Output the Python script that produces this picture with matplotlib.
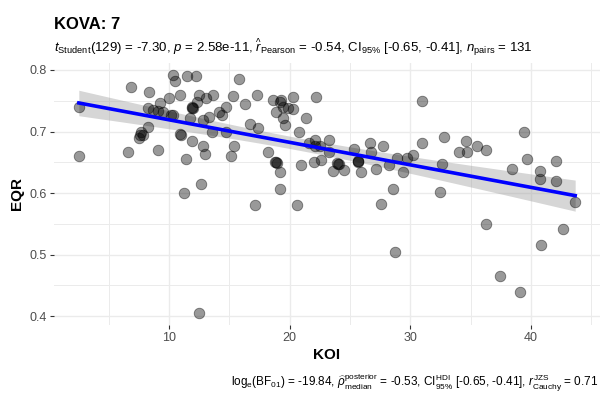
import numpy as np
import matplotlib
matplotlib.use('Agg')
import matplotlib.pyplot as plt
from matplotlib.ticker import MultipleLocator

plt.rcParams['font.family'] = ['Liberation Sans', 'DejaVu Sans']
plt.rcParams['mathtext.fontset'] = 'custom'
plt.rcParams['mathtext.rm'] = 'Liberation Sans'
plt.rcParams['mathtext.it'] = 'Liberation Sans:italic'
plt.rcParams['mathtext.bf'] = 'Liberation Sans:bold'

# KOVA station 7
koi = [2.5, 2.5, 6.8, 6.6, 7.5, 7.8, 7.66, 8.2, 8.3, 8.2,
       8.63, 9.04, 9.46, 9.24, 9.1, 10.0, 10.15, 10.35, 10.35, 10.45,
       10.9, 11.5, 12.25, 10.9, 11.0, 11.7, 11.9, 11.95, 11.9, 11.4,
       11.26, 12.5, 12.3, 12.8, 12.84, 12.93, 12.6, 12.43, 13.07, 13.67,
       13.34, 13.56, 14.17, 14.4, 14.67, 14.72, 15.28, 15.75, 16.25, 15.34,
       15.15, 16.67, 17.27, 17.36, 17.1, 18.6, 19.16, 19.3, 20.27, 22.21,
       19.43, 19.85, 20.27, 18.88, 19.43, 19.58, 21.38, 20.77, 18.2, 18.74,
       18.94, 19.16, 19.16, 20.6, 20.96, 22.07, 22.0, 22.62, 22.49, 23.26,
       21.6, 23.92, 24.09, 23.6, 24.5, 25.34, 25.67, 25.7, 25.87, 26.64,
       26.78, 27.75, 27.14, 28.25, 28.86, 29.41, 29.69, 30.19, 30.94, 30.99,
       28.53, 27.6, 32.5, 32.6, 32.79, 34.62, 34.07, 34.68, 35.51, 36.28,
       39.44, 39.67, 38.42, 40.77, 40.77, 42.05, 42.1, 43.68, 36.28, 37.45,
       39.11, 40.86, 42.66, 28.75, 23.26, 22.07,
       7.6, 11.92, 18.9, 24.0, 25.68]
eqr = [0.740, 0.661, 0.772, 0.666, 0.690, 0.695, 0.700, 0.707, 0.764, 0.738,
       0.735, 0.733, 0.732, 0.746, 0.670, 0.755, 0.727, 0.727, 0.792, 0.782,
       0.759, 0.791, 0.791, 0.696, 0.694, 0.722, 0.740, 0.738, 0.685, 0.656,
       0.600, 0.760, 0.748, 0.719, 0.677, 0.664, 0.615, 0.405, 0.755, 0.760,
       0.723, 0.699, 0.731, 0.727, 0.740, 0.700, 0.758, 0.786, 0.745, 0.677,
       0.661, 0.712, 0.760, 0.706, 0.580, 0.751, 0.748, 0.751, 0.756, 0.756,
       0.740, 0.738, 0.737, 0.731, 0.722, 0.711, 0.722, 0.700, 0.667, 0.651,
       0.649, 0.635, 0.607, 0.581, 0.646, 0.686, 0.651, 0.654, 0.677, 0.686,
       0.681, 0.649, 0.647, 0.636, 0.638, 0.671, 0.651, 0.652, 0.635, 0.681,
       0.667, 0.677, 0.639, 0.645, 0.657, 0.635, 0.657, 0.662, 0.750, 0.681,
       0.607, 0.583, 0.602, 0.648, 0.691, 0.685, 0.666, 0.666, 0.677, 0.670,
       0.700, 0.656, 0.639, 0.636, 0.623, 0.652, 0.620, 0.586, 0.550, 0.466,
       0.440, 0.515, 0.541, 0.504, 0.667, 0.676,
       0.694, 0.739, 0.650, 0.648, 0.652]

title = 'KOVA: 7'
subtitle = (r'$\mathit{t}_{\mathrm{Student}}$(129) = -7.30, $\mathit{p}$ = 2.58e-11, '
            r'$\widehat{\mathit{r}}_{\mathrm{Pearson}}$ = -0.54, CI$_{\mathrm{95\%}}$ [-0.65, -0.41], '
            r'$\mathit{n}_{\mathrm{pairs}}$ = 131')
caption = (r'log$_{\mathrm{e}}$(BF$_{\mathrm{01}}$) = -19.84, '
           r'$\widehat{\rho}_{\mathrm{median}}^{\mathrm{posterior}}$ = -0.53, '
           r'CI$_{\mathrm{95\%}}^{\mathrm{HDI}}$ [-0.65, -0.41], '
           r'$\mathit{r}_{\mathrm{Cauchy}}^{\mathrm{JZS}}$ = 0.71')

T_CRIT = 1.979  # t(0.975, df=129)


def lm_band(x, y, n=80):
    x = np.asarray(x)
    y = np.asarray(y)
    b, a = np.polyfit(x, y, 1)
    resid = y - (a + b * x)
    s = np.sqrt(np.sum(resid ** 2) / (len(x) - 2))
    xs = np.linspace(x.min(), x.max(), n)
    fit = a + b * xs
    se = s * np.sqrt(1 / len(x) + (xs - x.mean()) ** 2 / np.sum((x - x.mean()) ** 2))
    return xs, fit, fit - T_CRIT * se, fit + T_CRIT * se


fig = plt.figure(figsize=(6.09, 3.97), dpi=100)
ax = fig.add_axes([54 / 609, 1 - 325 / 397, 546 / 609, 262 / 397])

ax.scatter(koi, eqr, s=58, facecolor=(0, 0, 0, 0.4), edgecolor=(0, 0, 0, 0.45),
           linewidth=0.6, zorder=3)

xs, fit, lo, hi = lm_band(koi, eqr)
ax.fill_between(xs, lo, hi, color='#999999', alpha=0.4, linewidth=0, zorder=2)
ax.plot(xs, fit, color='blue', linewidth=2.6, zorder=4)

span_x = max(koi) - min(koi)
span_y = max(eqr) - min(eqr)
ax.set_xlim(min(koi) - 0.05 * span_x, max(koi) + 0.05 * span_x)
ax.set_ylim(min(eqr) - 0.05 * span_y, max(eqr) + 0.05 * span_y)

ax.xaxis.set_major_locator(MultipleLocator(10))
ax.xaxis.set_minor_locator(MultipleLocator(5))
ax.yaxis.set_major_locator(MultipleLocator(0.1))
ax.yaxis.set_minor_locator(MultipleLocator(0.05))
ax.grid(which='major', color='#EBEBEB', linewidth=1.0)
ax.grid(which='minor', color='#EBEBEB', linewidth=0.7)
ax.set_axisbelow(True)
for sp in ax.spines.values():
    sp.set_visible(False)
ax.tick_params(which='major', length=3, width=0.8, color='#333333',
               labelcolor='#4D4D4D', labelsize=9, pad=2)
ax.tick_params(which='minor', length=0)

ax.set_xlabel('KOI', fontsize=11, fontweight='bold', labelpad=3)
ax.set_ylabel('EQR', fontsize=11, fontweight='bold', labelpad=4)

fig.text(54 / 609, 1 - 29 / 397, title, fontsize=12, fontweight='bold', va='baseline')
fig.text(54 / 609, 1 - 52 / 397, subtitle, fontsize=9.5, va='baseline')
fig.text(598 / 609, 1 - 386 / 397, caption, fontsize=8.5, ha='right', va='baseline')

fig.savefig('out.png', dpi=100)
